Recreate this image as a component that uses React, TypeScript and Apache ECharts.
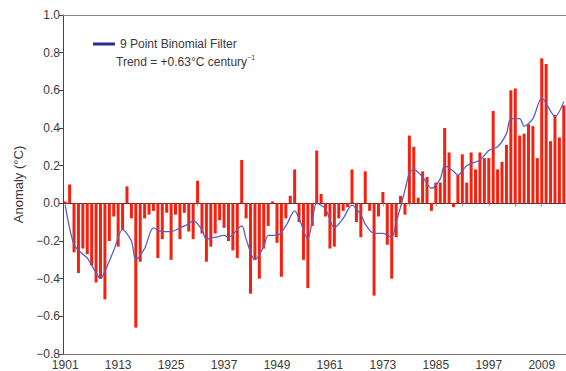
import React, { useEffect, useRef } from "react";
import * as echarts from "echarts";

const years: string[] = Array.from({ length: 114 }, (_, i) => String(1901 + i));

const anomalies: number[] = [
  0.01, 0.10, -0.26, -0.37, -0.24, -0.27, -0.33, -0.42, -0.40, -0.51,
  -0.20, -0.07, -0.23, -0.14, 0.09, -0.08, -0.66, -0.31, -0.08, -0.06,
  -0.04, -0.29, -0.19, -0.05, -0.30, -0.06, -0.19, -0.05, -0.15, -0.19,
  0.12, -0.16, -0.31, -0.23, -0.16, -0.09, -0.13, -0.20, -0.25, -0.29,
  0.23, -0.08, -0.48, -0.30, -0.40, -0.24, -0.12, 0.01, -0.21, -0.39,
  -0.08, 0.04, 0.18, -0.10, -0.30, -0.45, -0.12, 0.28, 0.05, -0.07,
  -0.24, -0.23, -0.08, -0.04, -0.02, 0.18, -0.10, -0.18, 0.17, -0.04,
  -0.49, -0.07, 0.06, -0.22, -0.40, -0.18, 0.04, -0.06, 0.36, 0.30,
  0.03, 0.17, 0.14, -0.04, 0.11, 0.11, 0.40, 0.27, -0.02, 0.15,
  0.26, 0.11, 0.27, 0.18, 0.27, 0.24, 0.24, 0.49, 0.18, 0.22,
  0.31, 0.60, 0.61, 0.36, 0.37, 0.42, 0.41, 0.24, 0.77, 0.74,
  0.33, 0.47, 0.35, 0.52,
];

// 9 point binomial filter at these years
const filterYears: number[] = [
  1901, 1903, 1905, 1906, 1908, 1909, 1910, 1912, 1914, 1916, 1917, 1919,
  1921, 1923, 1925, 1927, 1929, 1930, 1932, 1933, 1935, 1937, 1938, 1941,
  1942, 1944, 1946, 1947, 1949, 1951, 1953, 1954, 1956, 1957, 1958, 1960,
  1962, 1964, 1966, 1968, 1969, 1971, 1973, 1975, 1976, 1977, 1978, 1979,
  1980, 1982, 1984, 1986, 1987, 1989, 1990, 1992, 1995, 1997, 1999, 2001,
  2002, 2004, 2005, 2007, 2009, 2011, 2012, 2014,
];
const filterValues: number[] = [
  -0.01, -0.22, -0.27, -0.29, -0.37, -0.40, -0.36, -0.25, -0.14, -0.20, -0.30, -0.24,
  -0.13, -0.15, -0.15, -0.13, -0.11, -0.09, -0.14, -0.19, -0.18, -0.17, -0.18, -0.12,
  -0.19, -0.30, -0.23, -0.17, -0.17, -0.12, -0.04, -0.08, -0.19, -0.09, 0.0, -0.03,
  -0.13, -0.08, -0.01, -0.06, -0.11, -0.16, -0.16, -0.18, -0.10, -0.02, 0.07, 0.16,
  0.18, 0.14, 0.08, 0.13, 0.20, 0.17, 0.15, 0.20, 0.23, 0.28, 0.30, 0.37,
  0.45, 0.45, 0.41, 0.45, 0.56, 0.49, 0.46, 0.54,
];

const yTicks = { min: -0.8, max: 1.0, interval: 0.2 };

const FONT = "'Liberation Sans', Arial, sans-serif";

export default function App() {
  const ref = useRef<HTMLDivElement>(null);
  useEffect(() => {
    if (!ref.current) return;
    const chart = echarts.init(ref.current, undefined, { renderer: "svg" });
    const filterData = filterYears.map((y, i) => [y, filterValues[i]]);
    chart.setOption({
      animation: false,
      backgroundColor: "#ffffff",
      textStyle: { fontFamily: FONT },
      grid: { left: 63, right: 0, top: 15, bottom: 17 },
      legend: {
        left: 88,
        top: 33,
        icon: "rect",
        itemWidth: 22,
        itemHeight: 3,
        itemGap: 4,
        textStyle: { fontSize: 12, color: "#3a3a3a", fontFamily: FONT },
        data: [{ name: "9 Point Binomial Filter", itemStyle: { color: "#2f2a8e" } }],
      },
      graphic: [
        {
          type: "text",
          left: 116,
          top: 54,
          style: {
            text: "{a|Trend = +0.63°C century}{b|−1}",
            rich: {
              a: { fontSize: 12, fill: "#3a3a3a", fontFamily: FONT },
              b: { fontSize: 7, fill: "#3a3a3a", fontFamily: FONT, padding: [0, 0, 8, 0] },
            },
          },
        },
      ],
      xAxis: [
        {
          type: "category",
          data: years,
          position: "bottom",
          boundaryGap: true,
          axisLine: { onZero: false, lineStyle: { color: "#7a726c", width: 1 } },
          axisTick: { show: false },
          axisLabel: {
            interval: 11,
            margin: 5,
            fontSize: 12,
            color: "#3a3a3a",
            fontFamily: FONT,
          },
          splitLine: { show: false },
        },
        {
          type: "category",
          data: years,
          position: "bottom",
          boundaryGap: true,
          axisLine: { onZero: true, lineStyle: { color: "#3a3a3a", width: 1 } },
          axisTick: { show: true, interval: 5, alignWithLabel: true, length: 3, lineStyle: { color: "#999" } },
          axisLabel: { show: false },
          splitLine: { show: false },
        },
        {
          type: "category",
          data: years,
          position: "top",
          axisLine: { onZero: false, lineStyle: { color: "#8c847e", width: 1 } },
          axisTick: { show: false },
          axisLabel: { show: false },
        },
        {
          type: "value",
          min: 1900.5,
          max: 2014.5,
          show: false,
        },
      ],
      yAxis: {
        type: "value",
        min: yTicks.min,
        max: yTicks.max,
        interval: yTicks.interval,
        name: "Anomaly (°C)",
        nameLocation: "middle",
        nameGap: 33,
        nameTextStyle: { fontSize: 13, color: "#3a3a3a", fontFamily: FONT },
        axisLine: { show: true, lineStyle: { color: "#4a4440", width: 1 } },
        axisTick: { show: true, length: 4, lineStyle: { color: "#4a4440" } },
        axisLabel: {
          fontSize: 12,
          color: "#3a3a3a",
          margin: 3,
          fontFamily: FONT,
          formatter: (v: number) => v.toFixed(1).replace("-", "−"),
        },
        splitLine: { show: false },
      },
      series: [
        {
          type: "bar",
          name: "Anomaly",
          xAxisIndex: 0,
          data: anomalies,
          barWidth: 3,
          itemStyle: { color: "#f5200e" },
        },
        {
          type: "line",
          name: "9 Point Binomial Filter",
          xAxisIndex: 3,
          data: filterData,
          smooth: 0.3,
          showSymbol: false,
          symbol: "none",
          lineStyle: { color: "#5a60c6", width: 1.3 },
          itemStyle: { color: "#2f2a8e" },
          z: 5,
        },
      ],
    });
    return () => chart.dispose();
  }, []);
  return <div ref={ref} style={{ width: 566, height: 371, position: "absolute", left: 0, top: 0 }} />;
}
